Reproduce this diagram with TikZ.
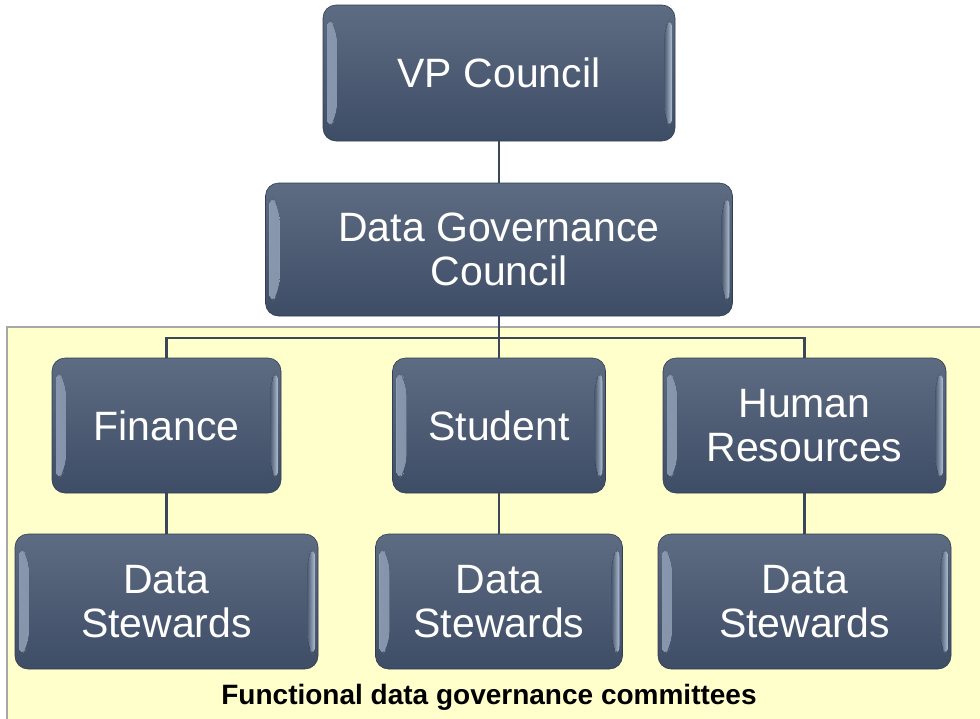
\documentclass[tikz,border=0pt]{standalone}
\usepackage{fontspec}
\setmainfont{Liberation Sans}
\usetikzlibrary{calc}
\definecolor{boxtop}{HTML}{5D6C82}
\definecolor{boxbot}{HTML}{3E4D66}
\definecolor{bevL}{HTML}{9FB0CA}
\definecolor{bevR}{HTML}{C4D4EC}
\definecolor{linec}{HTML}{3A475B}
\definecolor{panelfill}{HTML}{FFFFCC}
\definecolor{panelline}{HTML}{A8A8A8}
\tikzset{
  orgbox/.style={rounded corners=13pt, top color=boxtop, bottom color=boxbot,
    draw=boxbot!80!black, line width=0.6pt, text=white, align=center,
    font=\fontsize{41}{44}\selectfont, inner sep=0pt,
    path picture={
      \fill[left color=bevL, right color=boxtop!70!boxbot, opacity=0.85]
        ($(path picture bounding box.north west)+(4pt,-10pt)$) --
        ($(path picture bounding box.north west)+(14pt,-24pt)$) --
        ($(path picture bounding box.south west)+(14pt,24pt)$) --
        ($(path picture bounding box.south west)+(4pt,10pt)$) -- cycle;
      \fill[right color=bevR, left color=boxtop!60!boxbot, opacity=0.9]
        ($(path picture bounding box.north east)+(-3pt,-10pt)$) --
        ($(path picture bounding box.north east)+(-11pt,-24pt)$) --
        ($(path picture bounding box.south east)+(-11pt,24pt)$) --
        ($(path picture bounding box.south east)+(-3pt,10pt)$) -- cycle;
    }},
  conn/.style={draw=linec, line width=2.2pt},
  caption/.style={font=\bfseries\fontsize{28}{30}\selectfont, text=black}
}
\begin{document}
\begin{tikzpicture}[x=1pt,y=-1pt]
\useasboundingbox (0,0) rectangle (980,718);
\fill[white] (0,0) rectangle (980,718);
\draw[fill=panelfill, draw=panelline, line width=1.2pt] (7,327) rectangle (990,730);

\node[orgbox, minimum width=352pt, minimum height=136pt] (vp) at (499,73) {VP Council};
\node[orgbox, minimum width=467pt, minimum height=133pt] (dgc) at (499,249.5) {Data Governance\\Council};
\node[orgbox, minimum width=229pt, minimum height=135pt] (fin) at (166.5,425.5) {Finance};
\node[orgbox, minimum width=213pt, minimum height=135pt] (stu) at (499,425.5) {Student};
\node[orgbox, minimum width=283pt, minimum height=135pt] (hr) at (804.5,425.5) {Human\\Resources};
\node[orgbox, minimum width=303pt, minimum height=135pt] (ds1) at (166.5,601.5) {Data\\Stewards};
\node[orgbox, minimum width=247pt, minimum height=135pt] (ds2) at (499,601.5) {Data\\Stewards};
\node[orgbox, minimum width=293pt, minimum height=135pt] (ds3) at (804.5,601.5) {Data\\Stewards};

\coordinate (bus) at (499,338);
\draw[conn] (vp.south) -- (dgc.north);
\draw[conn] (dgc.south) -- (bus);
\draw[conn] (fin.north) |- (bus) -| (hr.north);
\draw[conn] (bus) -- (stu.north);
\draw[conn] (fin.south) -- (ds1.north);
\draw[conn] (stu.south) -- (ds2.north);
\draw[conn] (hr.south) -- (ds3.north);

\node[caption] (cap) at (489,697) {Functional data governance committees};
\end{tikzpicture}
\end{document}
